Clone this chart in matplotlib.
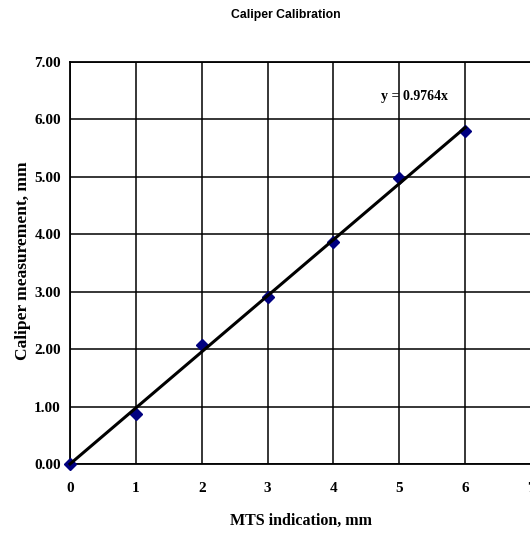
import numpy as np
import matplotlib.pyplot as plt

# calibration data
mts = [0, 1, 2, 3, 4, 5, 6]
caliper = [0.0, 0.87, 2.07, 2.90, 3.87, 4.98, 5.79]
slope = 0.9764

xticks = [0, 1, 2, 3, 4, 5, 6, 7]
yticks = [0, 1, 2, 3, 4, 5, 6, 7]

serif = ['Liberation Serif', 'DejaVu Serif']

fig = plt.figure(figsize=(5.3, 5.33), dpi=100)
ax = fig.add_axes([70/530, 69/533, 461/530, 402/533])

ax.plot(mts, caliper, 'D', color='#000080', markersize=6.5, clip_on=False, zorder=3)
xf = np.array([mts[0], mts[-1]])
ax.plot(xf, slope*xf, color='black', lw=2.2, zorder=4, clip_on=False)

ax.set_xlim(0, 7)
ax.set_ylim(0, 7)
ax.set_xticks(xticks)
ax.set_yticks(yticks)
ax.set_xticklabels([str(v) for v in xticks], family=serif, fontweight='bold', fontsize=11)
ax.set_yticklabels([f'{v:.2f}' for v in yticks], family=serif, fontweight='bold', fontsize=11)
ax.tick_params(axis='x', length=0, pad=13)
ax.tick_params(axis='y', length=0, pad=6.5)
ax.grid(True, color='black', lw=1.1)
ax.set_axisbelow(True)
for s in ax.spines.values():
    s.set_color('black')
    s.set_linewidth(1.3)

ax.text(4.72, 6.40, f'y = {slope}x', family=serif, fontweight='bold', fontsize=10,
        va='center', ha='left')

ax.set_xlabel('MTS indication, mm', family=serif, fontweight='bold', fontsize=11.5, labelpad=13)
fig.text(23/530, 1 - 261/533, 'Caliper measurement, mm', family=serif,
         fontweight='bold', fontsize=12.5, rotation=90, ha='center', va='center')
fig.text(286/530, 1 - 15/533, 'Caliper Calibration', family=['Liberation Sans', 'DejaVu Sans'],
         fontweight='bold', fontsize=8.8, ha='center', va='center')

fig.savefig('out.png', dpi=100)
